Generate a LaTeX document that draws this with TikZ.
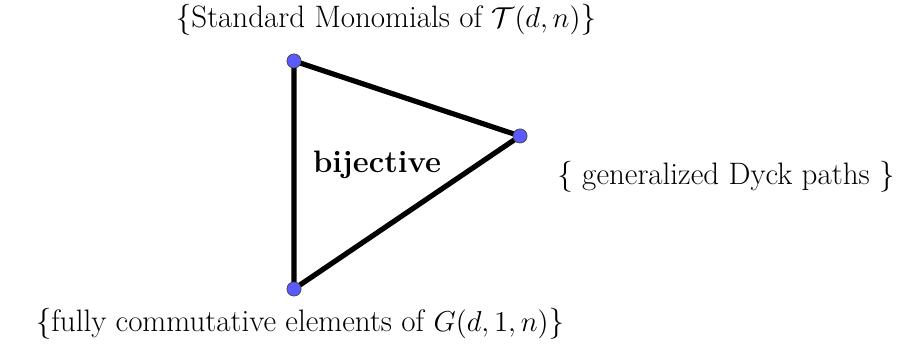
\documentclass[tikz,border=0pt]{standalone}
\begin{document}
\begin{tikzpicture}[x=0.5pt,y=-0.5pt,
  edge/.style={line width=2.6pt},
  dot/.style={circle,fill={rgb,255:red,90;green,90;blue,255},draw=black!70,line width=0.3pt,inner sep=0pt,minimum size=7pt},
  lab/.style={font=\fontsize{15.5}{18}\selectfont,inner sep=0pt}]
\useasboundingbox (0,0) rectangle (911,346);
\node[dot] (t) at (294,61) {};
\node[dot] (r) at (520,136) {};
\node[dot] (b) at (294,289) {};
\draw[edge] (t.center) -- (r.center) -- (b.center) -- cycle;
\node[dot] at (t) {};
\node[dot] at (r) {};
\node[dot] at (b) {};
\node[lab] (tl) at (386,20) {\{Standard Monomials of $\mathcal{T}(d,n)$\}};
\node[lab] (bj) at (377,165) {\textbf{bijective}};
\node[lab] (rl) at (726,177) {\{ generalized Dyck paths \}};
\node[lab] (bl) at (300,324) {\{fully commutative elements of $G(d,1,n)$\}};
\end{tikzpicture}
\end{document}
